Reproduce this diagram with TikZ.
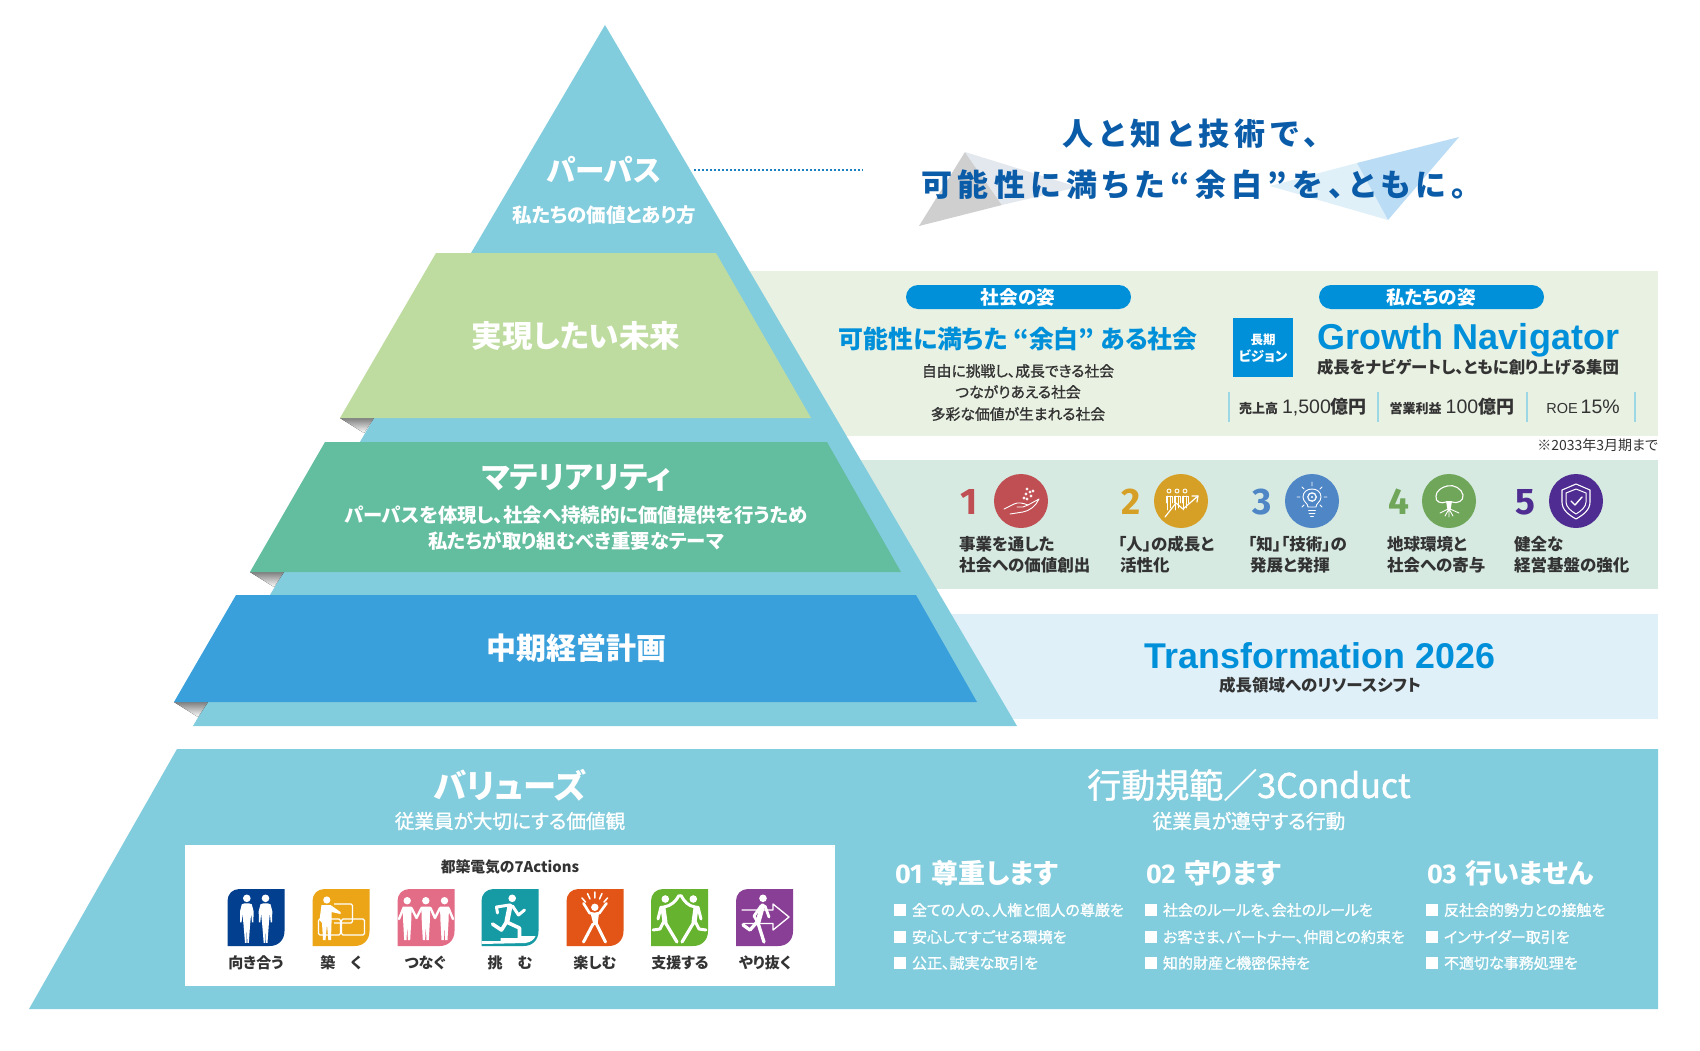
\documentclass[tikz,border=0pt]{standalone}
\usepackage{fontspec}
\setmainfont{Liberation Sans}
\newfontfamily\jpr[RawFeature=+palt]{Noto Sans CJK JP}
\newfontfamily\jpm[RawFeature=+palt,FakeBold=1.2]{Noto Sans CJK JP}
\newfontfamily\jpt[RawFeature=+palt,LetterSpace=17.5]{Noto Sans CJK JP}
\newfontfamily\fira{Fira Sans}
\newfontfamily\lat{Liberation Sans}
\newcommand\jpb{\jpr\bfseries}
\newcommand\fsz[1]{\fontsize{#1}{#1}\selectfont}
\definecolor{tri}{HTML}{82CDDD}
\definecolor{band1}{HTML}{BFDCA0}
\definecolor{band2}{HTML}{63BD9F}
\definecolor{band3}{HTML}{3AA0DC}
\definecolor{shade}{HTML}{A0A1A4}
\definecolor{pan1}{HTML}{E9F1E2}
\definecolor{pan2}{HTML}{D6EAE2}
\definecolor{pan3}{HTML}{DFF0F9}
\definecolor{accent}{HTML}{0090DA}
\definecolor{navy}{HTML}{0B5CA8}
\definecolor{ink}{HTML}{333333}
\definecolor{gr1}{HTML}{CFCFCF}
\definecolor{gr2}{HTML}{E3E8EF}
\definecolor{bl2}{HTML}{BBDCF5}
\definecolor{dots}{HTML}{1B80C0}
\definecolor{icblue}{HTML}{033F8F}
\tikzset{
  txt/.style={inner sep=0pt,outer sep=0pt},
  limb/.style={draw=white,line width=#1,line cap=round,line join=round},
  limb/.default=3.4,
  fine/.style={draw=white,line width=0.9,line cap=round,line join=round},
  kpi/.style={draw=#1,line width=1.2},
  pill/.style={fill=accent,rounded corners=12pt},
  whitehead/.style={txt,text=white,font=\jpb},
}
\newcommand\iconbg[1]{\fill[#1] (12,0) -- (57,0) -- (57,42) .. controls (57,51) and (51,57) .. (42,57) -- (0,57) -- (0,12) .. controls (0,5) and (5,0) .. (12,0) -- cycle;}
\newcommand\standing[2]{\begin{scope}[shift={(#1,#2)}]
  \fill[white] (0,0) circle (3.8);
  \fill[white,line join=round] (-2,5) -- (-5,6) -- (-6.8,13) -- (-6.6,24) -- (-5.2,24) -- (-4.4,15) -- (-3.4,25) -- (-1.8,44.5) -- (-0.2,44.5) -- (0,29) -- (0.6,44.5) -- (2,44.5) -- (3.4,25) -- (4.4,15) -- (5.2,24) -- (6.6,24) -- (6.8,13) -- (5,6) -- (2,5) -- cycle;
\end{scope}}
\begin{document}
\begin{tikzpicture}[x=1pt,y=-1pt]
\useasboundingbox[fill=white] (0,0) rectangle (1700,1050);
% right panels
\fill[pan1] (700,271) rectangle (1658,436);
\fill[pan2] (800,460) rectangle (1658,589);
\fill[pan3] (900,614) rectangle (1658,719);
% main triangle
\fill[tri] (605,25) -- (1017,726) -- (193,726) -- cycle;
% bands
\fill[shade] (340,418) -- (374,418) -- (364,433) -- cycle;
\fill[band1] (436,253) -- (716,253) -- (811,418) -- (340,418) -- cycle;
\fill[shade] (250,572) -- (284,572) -- (274,587) -- cycle;
\fill[band2] (325,442) -- (827,442) -- (901,572) -- (250,572) -- cycle;
\fill[shade] (174,702) -- (208,702) -- (198,717) -- cycle;
\fill[band3] (236,595) -- (916,595) -- (977,702) -- (174,702) -- cycle;
% base
\fill[tri] (177,749) -- (1658,749) -- (1658,1009) -- (29,1009) -- cycle;
\fill[white] (185,845) rectangle (835,986);
% pyramid labels
\node[whitehead,font=\jpb\fsz{29.5}] (purpose) at (604,170) {パーパス};
\node[whitehead,font=\jpb\fsz{19.5}] (purposesub) at (604,215) {私たちの価値とあり方};
\node[whitehead,font=\jpb\fsz{30.5}] (future) at (576,336) {実現したい未来};
\node[whitehead,font=\jpb\fsz{30.6}] (material) at (576,478) {マテリアリティ};
\node[whitehead,font=\jpb\fsz{19.4}] (matsub1) at (576,515) {パーパスを体現し、社会へ持続的に価値提供を行うため};
\node[whitehead,font=\jpb\fsz{19.4}] (matsub2) at (576,541) {私たちが取り組むべき重要なテーマ};
\node[whitehead,font=\jpb\fsz{30}] (midterm) at (576,648) {中期経営計画};
% tagline
\fill[gr1] (965,152) -- (919,226) -- (1002,205) -- cycle;
\fill[gr2] (965,152) -- (1002,205) -- (1078,187) -- cycle;
\fill[pan3] (1270,186) -- (1357,163) -- (1388,220) -- cycle;
\fill[bl2] (1357,163) -- (1459,137) -- (1388,220) -- cycle;
\coordinate (dotA) at (694,170);
\coordinate (dotB) at (863,170);
\draw[dots,line width=1.6,dash pattern=on 1.6pt off 2.4pt] (dotA) -- (dotB);
\node[txt,text=navy,font=\jpt\bfseries\fsz{31}] (tag1) at (1191,134) {人と知と技術で、};
\node[txt,text=navy,font=\jpt\bfseries\fsz{31}] (tag2) at (1194,185) {可能性に満ちた“余白”を、ともに。};
% panel 1
\fill[pill] (906,285) rectangle (1131,309);
\node[txt,text=white,font=\jpb\fsz{18.7}] (pillL) at (1018,297) {社会の姿};
\fill[pill] (1319,285) rectangle (1544,309);
\node[txt,text=white,font=\jpb\fsz{18.7}] (pillR) at (1431,297) {私たちの姿};
\node[txt,text=accent,font=\jpb\fsz{24.9}] (society) at (1018,339) {可能性に満ちた “余白” ある社会};
\node[txt,text=ink,font=\jpm\fsz{14.8}] (soc1) at (1018,371) {自由に挑戦し、成長できる社会};
\node[txt,text=ink,font=\jpm\fsz{14.8}] (soc2) at (1018,392) {つながりあえる社会};
\node[txt,text=ink,font=\jpm\fsz{14.8}] (soc3) at (1018,414) {多彩な価値が生まれる社会};
\fill[accent] (1233,318) rectangle (1293,377);
\node[txt,text=white,font=\jpb\fsz{12.5}] (ltv1) at (1263,340) {長期};
\node[txt,text=white,font=\jpb\fsz{13.5}] (ltv2) at (1263,356) {ビジョン};
\node[txt,text=accent,font=\lat\bfseries\fsz{36}] (growth) at (1468,340) {Growth Navigator};
\node[txt,text=ink,font=\jpb\fsz{16.4}] (growthsub) at (1468,367) {成長をナビゲートし、ともに創り上げる集団};
\foreach \kx in {1229,1378,1527,1635} \draw[kpi=tri!80] (\kx,392) -- (\kx,422);
\node[txt,text=ink] (kpi1) at (1303,407) {\jpb\fsz{13}売上高\hspace{4pt}\mdseries\lat\fsz{19.5}1,500\jpb\fsz{18}億円};
\node[txt,text=ink] (kpi2) at (1452,407) {\jpb\fsz{13}営業利益\hspace{4pt}\mdseries\lat\fsz{19.5}100\jpb\fsz{18}億円};
\node[txt,text=ink] (kpi3) at (1583,407) {\lat\fsz{14.5}ROE\hspace{3pt}\fsz{19.5}15\%};
\node[txt,text=ink,anchor=east,font=\jpr\fsz{14}] (note) at (1658,445) {※2033年3月期まで};
% panel 2: numbers
\foreach \nm/\nx/\col/\cx in {1/969/BF4F52/1021,2/1131/D6A026/1181,3/1262/4E86C6/1312,4/1399/6FA65A/1449,5/1525/4F2C91/1576}{
  \definecolor{thiscol}{HTML}{\col}
  \node[txt,text=thiscol,font=\fira\bfseries\fsz{37}] (num\nm) at (\nx,502) {\nm};
  \fill[thiscol] (\cx,501) circle (27);
}
% circle 1: hand
\begin{scope}[shift={(1021,501)}]
  \draw[fine] (-17,8) -- (-7,3) .. controls (-3,1) and (2,2) .. (7,4) -- (2,6) -- (-4,6);
  \draw[fine] (7,4) -- (18,-2) .. controls (15,5) and (8,10) .. (2,11) -- (-11,13);
  \foreach \bx/\by in {6/-12,9/-9,5/-7,10/-5,6/-2,3/-3,12/-10}
    \draw[fine,line width=0.7] (\bx,\by) circle (1.2);
\end{scope}
% circle 2: people and arrow
\begin{scope}[shift={(1181,501)}]
  \foreach \px in {-12,-4,4}{
    \draw[fine] (\px,-10) circle (2);
    \draw[fine] (\px-3,2) -- (\px-3,-5) -- (\px+3,-5) -- (\px+3,2);
    \draw[fine] (\px-1.2,-5) -- (\px-1.2,9);
    \draw[fine] (\px+1.2,-5) -- (\px+1.2,7);
  }
  \draw[fine,line width=1.2] (-16,16) -- (-5,2) -- (2,8) -- (17,-5);
  \draw[fine,line width=1.2] (11,-5) -- (17,-5) -- (16,1);
\end{scope}
% circle 3: bulb
\begin{scope}[shift={(1312,501)}]
  \draw[fine] (-4,6) .. controls (-4,2) and (-9,1) .. (-9,-4) .. controls (-9,-9) and (-5,-12) .. (0,-12) .. controls (5,-12) and (9,-9) .. (9,-4) .. controls (9,1) and (4,2) .. (4,6) -- cycle;
  \draw[fine] (-3.5,9) -- (3.5,9) (-3,12) -- (3,12) (-1.5,15) -- (1.5,15);
  \draw[fine,line width=1.4,dash pattern=on 1pt off 0.8pt] (0,-4) circle (4.2);
  \fill[white] (0,-4) circle (1.1);
  \draw[fine] (-15,-4) -- (-12,-4) (15,-4) -- (12,-4) (0,-19) -- (0,-15) (-10,-14) -- (-8,-12) (10,-14) -- (8,-12) (-10,6) -- (-8,4) (10,6) -- (8,4);
\end{scope}
% circle 4: tree
\begin{scope}[shift={(1449,501)}]
  \draw[fine,line width=1.1] (-3,1) .. controls (-8,3) and (-14,1) .. (-13,-5) .. controls (-13,-10) and (-7,-14) .. (-2,-15) .. controls (5,-17) and (13,-12) .. (14,-6) .. controls (15,0) and (8,3) .. (3,1);
  \fill[white] (-3,0) -- (3,0) -- (1.5,9) -- (-1.5,9) -- cycle;
  \draw[fine] (-1,8) -- (-9,12) (1,8) -- (10,12) (0,8) -- (-4,15) (0,8) -- (4,15) (0,8) -- (0,16);
\end{scope}
% circle 5: shield
\begin{scope}[shift={(1576,501)}]
  \draw[fine,line width=1.1] (0,-17) -- (-14,-11) -- (-14,1) .. controls (-14,9) and (-7,14) .. (0,18) .. controls (7,14) and (14,9) .. (14,1) -- (14,-11) -- cycle;
  \draw[fine,line width=1] (0,-12) -- (-10,-8) -- (-10,1) .. controls (-10,6) and (-5,10) .. (0,13) .. controls (5,10) and (10,6) .. (10,1) -- (10,-8) -- cycle;
  \draw[fine,line width=1.4] (-5,0) -- (-1,4) -- (6,-4);
\end{scope}
% panel 2 labels
\tikzset{mlabel/.style={txt,text=ink,anchor=west,font=\jpb\fsz{16.5}}}
\node[mlabel] (m1a) at (959,544) {事業を通した};
\node[mlabel] (m1b) at (959,565) {社会への価値創出};
\node[mlabel] (m2a) at (1118,544) {「人」の成長と};
\node[mlabel] (m2b) at (1120,565) {活性化};
\node[mlabel] (m3a) at (1248,544) {「知」「技術」の};
\node[mlabel] (m3b) at (1250,565) {発展と発揮};
\node[mlabel] (m4a) at (1387,544) {地球環境と};
\node[mlabel] (m4b) at (1387,565) {社会への寄与};
\node[mlabel] (m5a) at (1514,544) {健全な};
\node[mlabel] (m5b) at (1514,565) {経営基盤の強化};
% panel 3
\node[txt,text=accent,font=\lat\bfseries\fsz{35.8}] (transf) at (1320,656) {Transformation 2026};
\node[txt,text=ink,font=\jpb\fsz{16.5}] (transfsub) at (1320,685) {成長領域へのリソースシフト};
% base headings
\node[whitehead,font=\jpb\fsz{33.3}] (values) at (510,785) {バリューズ};
\node[txt,text=white,font=\jpm\fsz{19.6}] (valuessub) at (510,821) {従業員が大切にする価値観};
\node[txt,text=white,font=\jpm\fsz{34}] (conduct) at (1249,785) {行動規範／3Conduct};
\node[txt,text=white,font=\jpm\fsz{19.7}] (conductsub) at (1249,821) {従業員が遵守する行動};
\node[txt,text=ink,font=\jpb\fsz{14.8}] (actions) at (510,867) {都築電気の7Actions};
% icon 1
\begin{scope}[shift={(227.5,889)}]
  \iconbg{icblue}
  \standing{19.3}{9.3}
  \standing{38}{9.3}
\end{scope}
% icon 2
\begin{scope}[shift={(312.5,889)}]
  \definecolor{ic}{HTML}{EBA517}
  \iconbg{ic}
  \draw[fine,line width=1.3,rounded corners=1.5pt] (18,15) rectangle (40,34);
  \fill[ic] (8,14) rectangle (21,50);
  \draw[fine,line width=1.3,rounded corners=1.5pt] (29,30) rectangle (52,46);
  \draw[fine,line width=1.3,rounded corners=1.5pt] (6,30) rectangle (28,46);
  \fill[white] (14.3,11) circle (3.6);
  \fill[white] (9,16) -- (18,16) -- (28,23) -- (28,25) -- (19,23) -- (19,34) -- (18.5,51) -- (15.8,51) -- (14.5,35) -- (13,51) -- (10.5,51) -- (9.5,34) -- (7,31) -- cycle;
\end{scope}
% icon 3
\begin{scope}[shift={(397.5,889)}]
  \definecolor{ic}{HTML}{E36C86}
  \iconbg{ic}
  \foreach \hx in {9.7,28.3,47}{
    \fill[white] (\hx,11.7) circle (3.7);
    \fill[white] (\hx-4.5,17.5) -- (\hx+4.5,17.5) -- (\hx+4,33) -- (\hx+3,51) -- (\hx+0.7,51) -- (\hx,36) -- (\hx-0.7,51) -- (\hx-3,51) -- (\hx-4,33) -- cycle;
  }
  \draw[limb=2.4] (14,19) -- (19,29) (24,19) -- (19,29) (33,19) -- (37.5,29) (42.5,19) -- (37.5,29) (6,19) -- (1.5,30) (51,19) -- (55.5,30);
\end{scope}
% icon 4
\begin{scope}[shift={(481.5,889)}]
  \definecolor{ic}{HTML}{169AA4}
  \iconbg{ic}
  \fill[white] (30.7,9.3) circle (3.8);
  \draw[limb=5] (28.5,17) -- (25.5,32);
  \draw[limb=3] (28,16) -- (15,18) -- (16,24);
  \draw[limb=3] (31,17) -- (37,26) -- (43,21);
  \draw[limb=3.6] (25,33) -- (38,39) -- (38,47);
  \draw[limb=3.6] (25,33) -- (20,41) -- (11,35);
  \fill[white] (0,55) -- (0,52) -- (19,52) -- (19,49) -- (36,49) -- (36,47) -- (54,47) .. controls (53,50) and (50,53) .. (44,54) -- cycle;
\end{scope}
% icon 5
\begin{scope}[shift={(566.5,889)}]
  \definecolor{ic}{HTML}{E25516}
  \iconbg{ic}
  \fill[white] (28.3,18.3) circle (3.7);
  \draw[limb=2.6] (17,14.3) -- (23,24) -- (28,25) -- (33,24) -- (40,14.3);
  \fill[white] (24,24) -- (32.5,24) -- (31,36) -- (29,36) -- (27,36) -- cycle;
  \draw[limb=3] (26.5,35) -- (17,53) (30,35) -- (39,53);
  \draw[limb=1.5] (28.3,3) -- (28.3,9) (21,4.5) -- (23.5,10) (35.5,4.5) -- (33,10) (15.5,9) -- (19,13) (41,9) -- (37.5,13);
\end{scope}
% icon 6
\begin{scope}[shift={(651,889)}]
  \definecolor{ic}{HTML}{65B32E}
  \iconbg{ic}
  \fill[white] (14.3,10) circle (3.8);
  \fill[white] (42.3,10) circle (3.8);
  \draw[limb=3] (13,18) .. controls (20,17) and (25,12) .. (28,6.5) (44,18) .. controls (37,17) and (33,12) .. (30,6.5);
  \draw[limb=3] (10,18) -- (7,30) (47,18) -- (50,30);
  \draw[limb=5] (12,19) -- (14,33) (45,19) -- (43,33);
  \draw[limb=3.2] (14,33) -- (26,53) (43,33) -- (31,53);
  \draw[limb=3] (13,32) -- (9,40) -- (2,41) (44,32) -- (48,40) -- (55,41);
\end{scope}
% icon 7
\begin{scope}[shift={(736,889)}]
  \definecolor{ic}{HTML}{8A3F96}
  \iconbg{ic}
  \draw[fine,line width=1.3] (6,21) -- (37,21) -- (37,15) -- (53,28) -- (37,41) -- (37,34.5) -- (7,34.5);
  \fill[white] (27,9.3) circle (3.8);
  \draw[limb=5] (26.5,17) -- (22,33);
  \draw[limb=2.8] (25,17) -- (18,27) -- (21,32) (29,17) -- (33,28);
  \draw[limb=3.3] (22,34) -- (28,53) (21,33) -- (14,41) -- (7,36);
\end{scope}
% icon captions
\tikzset{cap1/.style={txt,text=ink,font=\jpb\fsz{15}}}
\node[cap1] (c1) at (256,963) {向き合う};
\node[cap1] (c2) at (341,963) {築\hspace{15pt}く};
\node[cap1] (c3) at (425,963) {つなぐ};
\node[cap1] (c4) at (510,963) {挑\hspace{15pt}む};
\node[cap1] (c5) at (595,963) {楽しむ};
\node[cap1] (c6) at (680,963) {支援する};
\node[cap1] (c7) at (765,963) {やり抜く};
% conduct columns
\tikzset{chead/.style={txt,text=white,anchor=west},citem/.style={txt,text=white,anchor=west,font=\jpm\fsz{15}}}
\node[chead] (h1) at (895,873) {\fira\bfseries\fsz{27}01\hspace{9pt}\jpb\fsz{27}尊重します};
\node[chead] (h2) at (1146,873) {\fira\bfseries\fsz{27}02\hspace{9pt}\jpb\fsz{27}守ります};
\node[chead] (h3) at (1427,873) {\fira\bfseries\fsz{27}03\hspace{9pt}\jpb\fsz{27}行いません};
\foreach \bx in {894,1145,1426}
  \foreach \by in {910,937,963}
    \fill[white] (\bx,\by-6) rectangle ++(12,12);
\node[citem] (a1) at (912,910) {全ての人の、人権と個人の尊厳を};
\node[citem] (a2) at (912,937) {安心してすごせる環境を};
\node[citem] (a3) at (912,963) {公正、誠実な取引を};
\node[citem] (b1) at (1163,910) {社会のルールを、会社のルールを};
\node[citem] (b2) at (1163,937) {お客さま、パートナー、仲間との約束を};
\node[citem] (b3) at (1163,963) {知的財産と機密保持を};
\node[citem] (d1) at (1444,910) {反社会的勢力との接触を};
\node[citem] (d2) at (1444,937) {インサイダー取引を};
\node[citem] (d3) at (1444,963) {不適切な事務処理を};
\end{tikzpicture}
\end{document}
